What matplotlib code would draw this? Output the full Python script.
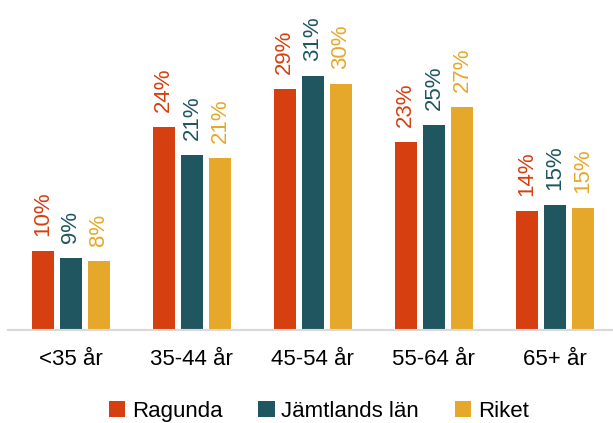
import numpy as np
import matplotlib
matplotlib.use("Agg")
import matplotlib.pyplot as plt
from matplotlib.patches import Patch

categories = ["<35 år", "35-44 år", "45-54 år", "55-64 år", "65+ år"]
series_names = ["Ragunda", "Jämtlands län", "Riket"]
ragunda = [9.6, 24.7, 29.4, 22.9, 14.5]
jamtland = [8.8, 21.3, 31.0, 25.0, 15.2]
riket = [8.4, 21.0, 30.0, 27.2, 14.9]
labels = [["10%", "24%", "29%", "23%", "14%"],
          ["9%", "21%", "31%", "25%", "15%"],
          ["8%", "21%", "30%", "27%", "15%"]]
colors = ["#D63F10", "#1F5660", "#E5A82A"]

plt.rcParams['font.family'] = ['Liberation Sans', 'DejaVu Sans']

fig = plt.figure(figsize=(6.13, 4.23), dpi=100)
ax = fig.add_axes([0.013, 0.22, 0.987, 0.78])

x = np.arange(len(categories))
step = 0.232
w = 0.182
for i, vals in enumerate([ragunda, jamtland, riket]):
    pos = x + (i - 1) * step
    ax.bar(pos, vals, width=w, color=colors[i], edgecolor="none")
    for p, v, lab in zip(pos, vals, labels[i]):
        ax.text(p, v + 1.8, lab, rotation=90, ha="center", va="bottom",
                color=colors[i], fontsize=16)

ax.set_xlim(-0.52, 4.48)
ax.set_ylim(0, 40.2)
ax.set_yticks([])
for s in ["top", "right", "left"]:
    ax.spines[s].set_visible(False)
ax.spines["bottom"].set_color("#D9D9D9")
ax.spines["bottom"].set_linewidth(1.5)
ax.set_xticks(x)
ax.set_xticklabels(categories, fontsize=16)
ax.tick_params(axis="x", length=0, pad=14)

handles = [Patch(facecolor=c, edgecolor="none") for c in colors]
fig.legend(handles, series_names, loc="center", bbox_to_anchor=(0.52, 0.028),
           ncol=3, frameon=False, fontsize=16, handlelength=0.75, handleheight=0.75,
           handletextpad=0.3, columnspacing=1.6)

fig.savefig("out.png", dpi=100)
